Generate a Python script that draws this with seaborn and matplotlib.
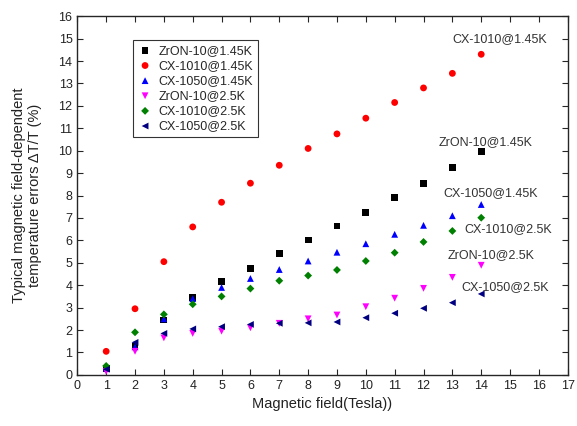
import numpy as np
import pandas as pd
import seaborn as sns
import matplotlib.pyplot as plt

field = [1, 2, 3, 4, 5, 6, 7, 8, 9, 10, 11, 12, 13, 14]

zron10_145 = [0.3, 1.25, 2.45, 3.45, 4.15, 4.75, 5.4, 6.02, 6.64, 7.25, 7.9, 8.54, 9.25, 9.95]
cx1010_145 = [1.05, 2.95, 5.05, 6.6, 7.7, 8.55, 9.35, 10.1, 10.75, 11.45, 12.15, 12.8, 13.45, 14.3]
cx1050_145 = [0.3, 1.25, 2.5, 3.4, 3.9, 4.3, 4.7, 5.08, 5.47, 5.85, 6.27, 6.67, 7.1, 7.6]
zron10_25 = [0.15, 1.05, 1.65, 1.85, 1.95, 2.1, 2.3, 2.5, 2.67, 3.04, 3.42, 3.86, 4.35, 4.89]
cx1010_25 = [0.4, 1.9, 2.7, 3.15, 3.5, 3.85, 4.2, 4.43, 4.68, 5.08, 5.45, 5.93, 6.42, 7.01]
cx1050_25 = [0.25, 1.45, 1.85, 2.05, 2.15, 2.25, 2.3, 2.32, 2.36, 2.55, 2.75, 2.97, 3.22, 3.61]

names = ["ZrON-10@1.45K", "CX-1010@1.45K", "CX-1050@1.45K",
         "ZrON-10@2.5K", "CX-1010@2.5K", "CX-1050@2.5K"]
series = [zron10_145, cx1010_145, cx1050_145, zron10_25, cx1010_25, cx1050_25]
colors = ["black", "red", "blue", "magenta", "green", "navy"]
markers = ["s", "o", "^", "v", "D", "<"]

sns.set_style("ticks")
plt.rcParams["font.family"] = ["Liberation Sans", "DejaVu Sans"]

fig, ax = plt.subplots(figsize=(5.77, 4.26), dpi=100)
for name, vals, c, m in zip(names, series, colors, markers):
    df = pd.DataFrame({"x": field, "y": vals})
    size = 16 if m == "D" else 24
    sns.scatterplot(data=df, x="x", y="y", color=c, marker=m, s=size,
                    edgecolor="none", label=name, ax=ax)

# labels next to the last points
ann = [("CX-1010@1.45K", 14.65, 15.0), ("ZrON-10@1.45K", 14.16, 10.38),
       ("CX-1050@1.45K", 14.33, 8.11), ("CX-1010@2.5K", 14.92, 6.5),
       ("ZrON-10@2.5K", 14.33, 5.35), ("CX-1050@2.5K", 14.82, 3.93)]
for txt, x, y in ann:
    ax.text(x, y, txt, fontsize=9, ha="center", va="center", color="#333333")

ax.set_xlim(0, 17)
ax.set_ylim(0, 16)
ax.set_xticks(range(0, 18))
ax.set_yticks(range(0, 17))
ax.tick_params(direction="in", top=True, right=True, labelsize=9,
               length=4, labelright=False, labeltop=False, labelcolor="#222222")
ax.set_xlabel("Magnetic field(Tesla))", fontsize=10.5, color="#222222")
ax.set_ylabel("Typical magnetic field-dependent\ntemperature errors ΔT/T (%)",
              fontsize=10.5, labelpad=12, color="#222222")
for sp in ax.spines.values():
    sp.set_linewidth(1.0)

leg = ax.legend(loc="upper left", bbox_to_anchor=(0.105, 0.945), fontsize=9,
                frameon=True, fancybox=False, edgecolor="black",
                handlelength=1.2, handletextpad=0.5, borderpad=0.4,
                labelspacing=0.25, borderaxespad=0.3)
leg.get_frame().set_linewidth(0.8)

plt.subplots_adjust(left=0.134, right=0.984, top=0.962, bottom=0.12)
fig.savefig("out.png", dpi=100)
